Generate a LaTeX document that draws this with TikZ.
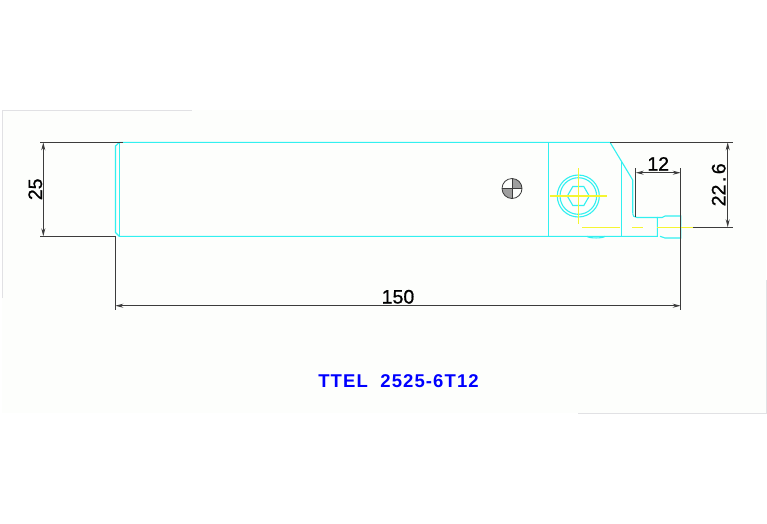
\documentclass[tikz,border=0pt]{standalone}
\usepackage{fontspec}
\setmainfont{Liberation Sans}
\newfontfamily\cotafont[FakeBold=0.8]{Liberation Sans}
\newfontfamily\titulofont[LetterSpace=6]{Liberation Sans}
\usetikzlibrary{arrows.meta,calc}
\definecolor{ciano}{RGB}{50,240,240}
\definecolor{amarelo}{RGB}{245,245,50}
\definecolor{cinza}{RGB}{60,60,60}
\definecolor{moldura}{RGB}{225,225,228}
\definecolor{fundo}{RGB}{253,254,252}
\tikzset{
corpo/.style = {draw=ciano, line width=1.1pt}
         }
\tikzset{
centro/.style = {draw=amarelo, line width=1.1pt}
         }
\tikzset{
cota/.style={{Stealth[length=8pt,width=4pt]}-{Stealth[length=8pt,width=4pt]}, draw=cinza, line width=1pt}
                }
\tikzset{
suporte/.style = {draw=cinza, line width=1pt}
         }
\tikzset{
valor/.style = {font=\cotafont\fontsize{19.5}{19.5}\selectfont, inner sep=0pt, text=black}
         }

\begin{document}
\begin{tikzpicture}[x=1pt,y=-1pt]
    \useasboundingbox (0,0) rectangle (767,523);

    % JANELA
    \fill[fundo] (2,110) rectangle (766,413);
    \draw[moldura,line width=1pt] (2,298) -- (2,110) -- (192,110);
    \draw[moldura,line width=1pt] (578,413) -- (766,413) -- (766,280);

    % CORPO
    \path[corpo] (115.5,146) -- (119.3,142.3) -- (610,142.3) -- (632.7,180) -- (632.7,212)
      .. controls (632.7,216) and (634,217.5) .. (637,217.5) -- (657.3,217.5) -- (657.3,236.3)
      -- (119.3,236.3) -- (115.5,232.5) -- cycle;
    \path[corpo] (119.3,142.3) -- (119.3,236.3);
    \path[corpo] (548.5,142.3) -- (548.5,236.3);
    \path[corpo] (621.3,161) -- (621.3,236.3);

    % PASTILHA
    \path[corpo] (657.3,217.5) -- (662,217.5) -- (665,216) -- (680.7,216) -- (680.7,238)
      -- (665,238) -- (660,236.3);
    \path[corpo] (587,236.3) .. controls (589,238.5) and (603,238.5) .. (605,236.3);

    % PARAFUSO
    \coordinate (P) at (578.3,196);
    \path[corpo] (P) circle (21);
    \path[corpo] (P) circle (18.3);
    \path[corpo] (P) ++(0:11) -- ++(120:11) -- ++(180:11) -- ++(240:11) -- ++(300:11) -- ++(0:11) -- cycle;
    \path[centro] (550,196) -- (606.7,196);
    \path[centro] (578.3,168) -- (578.3,224);

    % LINHA DE CENTRO
    \path[centro] (582,227.3) -- (620,227.3);
    \path[centro] (632,227.3) -- (643,227.3);
    \path[centro] (657,227.3) -- (693,227.3);

    % SIMBOLO
    \coordinate (S) at (512,188.5);
    \fill[gray!75] (S) -- (502,188.5) arc (180:90:10) -- cycle;
    \fill[gray!75] (S) -- (522,188.5) arc (0:-90:10) -- cycle;
    \draw[cinza,line width=0.8pt] (S) circle (10);
    \draw[cinza,line width=0.8pt] (502,188.5) -- (522,188.5);
    \draw[cinza,line width=0.8pt] (512,178.5) -- (512,198.5);

    % COTAS
    \draw[suporte] (40,142.3) -- (123,142.3);
    \draw[suporte] (40,236.3) -- (115.3,236.3);
    \draw[cota] (43.3,142.3) -- (43.3,236.3) node[midway,valor,rotate=90,yshift=8pt] (L25) {25};

    \draw[suporte] (115.3,236.3) -- (115.3,310);
    \draw[suporte] (680.7,168) -- (680.7,310);
    \draw[cota] (115.3,305.7) -- (680.7,305.7) node[midway,valor,anchor=south,yshift=1.5pt] (L150) {150};

    \draw[suporte] (635.7,168) -- (635.7,217);
    \draw[cota] (635.7,172.7) -- (680.7,172.7) node[midway,valor,anchor=south,yshift=1.5pt] (L12) {12};

    \draw[suporte] (610,142.3) -- (733,142.3);
    \draw[suporte] (693,227.3) -- (733,227.3);
    \draw[cota] (727.7,142.3) -- (727.7,227.3) node[midway,valor,rotate=90,yshift=9pt] (L226) {22\kern2.5pt.\kern2.5pt6};

    % TITULO
    \node[font=\titulofont\bfseries\fontsize{18.5}{18.5}\selectfont,text=blue,inner sep=0pt] (T) at (398.5,381) {TTEL\ \ 2525-6T12};

\end{tikzpicture}
\end{document}
